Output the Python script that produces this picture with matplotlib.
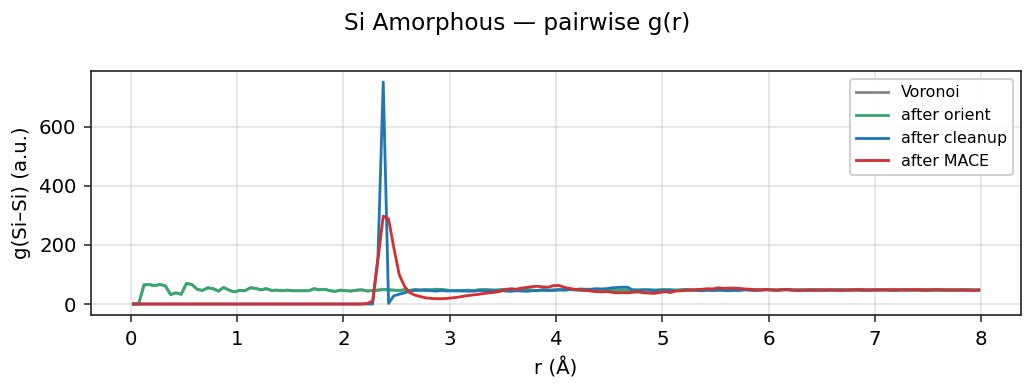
import numpy as np
import matplotlib
matplotlib.use("Agg")
import matplotlib.pyplot as plt

# bin centres (Å)
r = np.round(0.025 + 0.05 * np.arange(160), 3)

after_orient = [
    0, 0, 65, 66, 62, 66, 62, 32, 38, 33,
    70, 66, 50, 46, 55, 52, 44, 56, 47, 41,
    46, 45, 55, 53, 48, 52, 46, 47, 45, 47,
    45, 45, 45, 45, 52, 48, 50, 45, 43, 47,
    45, 44, 47, 48, 44, 46, 47, 49, 48, 47,
    46, 48, 46, 49, 47, 49, 48, 50, 49, 47,
    45, 46, 44, 47, 45, 48, 49, 48, 47, 48,
    50, 48, 47, 49, 48, 47, 46, 48, 47, 46,
    48, 47, 49, 48, 47, 46, 48, 47, 46, 48,
    47, 46, 48, 47, 48, 47, 49, 48, 47, 48,
    49, 48, 47, 48, 49, 47, 48, 49, 48, 47,
    48, 49, 48, 47, 48, 49, 48, 47, 48, 49,
    48, 47, 48, 49, 48, 47, 48, 48, 49, 48,
    47, 48, 49, 48, 47, 48, 49, 48, 47, 48,
    48, 49, 48, 47, 48, 49, 48, 47, 48, 49,
    48, 47, 48, 49, 48, 47, 48, 49, 48, 47,
]
voronoi = list(after_orient)

after_cleanup = [0] * 46 + [
    160, 752, 2, 28,
    33, 38, 44, 46, 47, 46, 45, 44, 46, 44,
    45, 44, 46, 43, 44, 45, 46, 44, 45, 46,
    44, 43, 45, 44, 43, 45, 46, 47, 46, 48,
    48, 49, 50, 49, 51, 50, 50, 52, 51, 52,
    55, 56, 57, 57, 46, 47, 46, 47, 45, 46,
    46, 47, 45, 46, 48, 47, 46, 45, 47, 46,
    47, 46, 45, 47, 46, 48, 47, 46, 47, 48,
    48, 47, 49, 48, 47, 48, 47, 46, 48, 47,
    48, 47, 46, 48, 47, 48, 47, 46, 47, 48,
    47, 48, 47, 46, 47, 48, 47, 48, 47, 46,
    47, 48, 47, 46, 47, 48, 47, 46, 47, 48,
]

after_mace = [0] * 44 + [
    2, 10, 150, 298, 288, 190,
    100, 60, 38, 30, 25, 21, 19, 18, 18, 19,
    21, 23, 26, 29, 31, 33, 36, 38, 40, 43,
    49, 52, 50, 54, 56, 59, 60, 58, 57, 62,
    63, 57, 53, 50, 48, 47, 44, 42, 41, 42,
    40, 38, 39, 38, 40, 41, 38, 37, 36, 39,
    42, 39, 44, 45, 46, 48, 49, 50, 52, 51,
    55, 53, 54, 54, 53, 51, 50, 49, 48, 49,
    48, 47, 48, 49, 47, 46, 47, 48, 46, 47,
    47, 48, 47, 46, 48, 47, 48, 49, 48, 47,
    48, 47, 48, 49, 48, 47, 48, 49, 48, 47,
    48, 49, 48, 47, 48, 47, 48, 47, 46, 47,
]

series = [
    ("Voronoi", voronoi, "#888888"),
    ("after orient", after_orient, "#35a86f"),
    ("after cleanup", after_cleanup, "#1f77b4"),
    ("after MACE", after_mace, "#d62f2f"),
]

fig = plt.figure(figsize=(6.9, 2.6), dpi=150)
ax = fig.add_axes([0.088, 0.192, 0.8985, 0.626])
for name, vals, col in series:
    ax.plot(r, vals, color=col, lw=1.35, label=name)

ax.set_xticks(range(0, 9))
ax.set_yticks([0, 200, 400, 600])
ax.grid(True, color="#cccccc", alpha=0.55, lw=0.8)
ax.set_axisbelow(True)
ax.set_xlabel("r (Å)", fontsize=9.5)
ax.set_ylabel("g(Si–Si) (a.u.)", fontsize=9.5)
ax.tick_params(labelsize=9.5, color="#333333")
for s in ax.spines.values():
    s.set_color("#222222")
ax.legend(loc="upper right", fontsize=7.6, framealpha=0.9)
fig.suptitle("Si Amorphous — pairwise g(r)", fontsize=11.2, y=0.97)
fig.savefig("out.png", dpi=150)
